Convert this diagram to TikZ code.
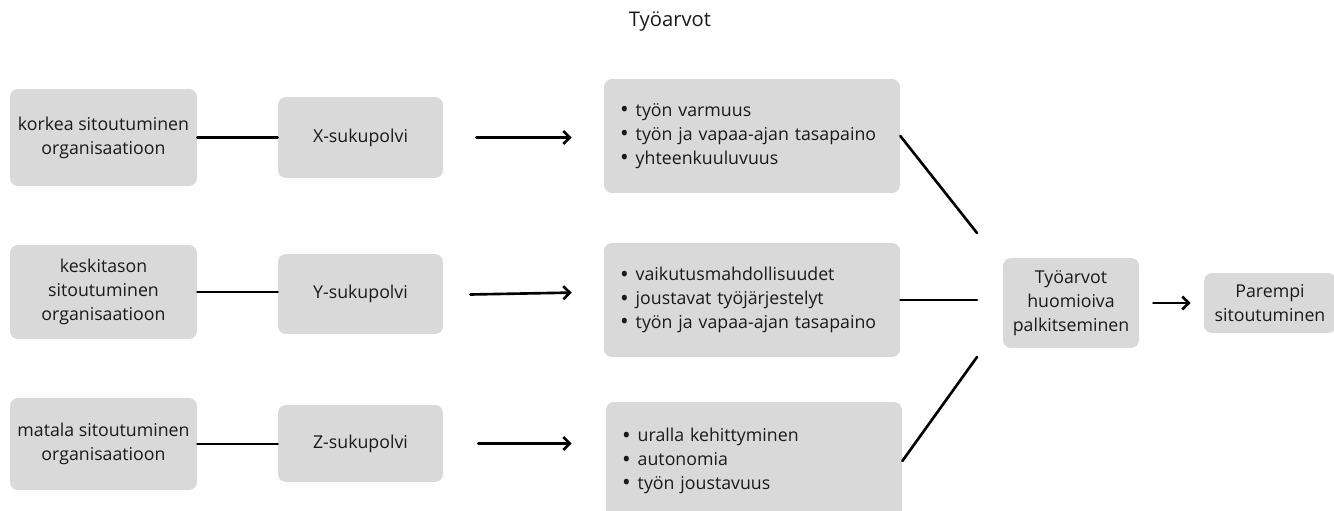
\documentclass[tikz,border=0pt]{standalone}
\usepackage{fontspec}
\setmainfont{Open Sans}
\usetikzlibrary{arrows.meta}
\definecolor{Box}{HTML}{D9D9D9}
\definecolor{Ink}{HTML}{1A1A1A}
\newcommand{\itm}{\raisebox{-.15ex}{\scalebox{1.3}{\textbullet}}\hspace{4pt}}

\begin{document}
\begin{tikzpicture}[x=.02cm,y=-.02cm,>={Straight Barb[length=1.3mm,width=2.6mm]},
 box/.style={fill=Box,rounded corners=.16cm,text=Ink,align=center,inner sep=0pt,font=\fontsize{10.1}{13.6}\selectfont},
 lst/.style={box,align=left,inner xsep=.32cm,text width=5.28cm},
 ln/.style={line width=1.5pt,line cap=round}]
\useasboundingbox(0,0)rectangle(1334,510);
\node[text=Ink,font=\fontsize{11.5}{14}\selectfont](title)at(670,22){Työarvot};
% sitoutuminen
\node[box,minimum width=3.74cm,minimum height=1.94cm](k1)at(103.5,137.5){korkea sitoutuminen\\organisaatioon};
\node[box,minimum width=3.74cm,minimum height=1.88cm](k2)at(103.5,292){keskitason\\sitoutuminen\\organisaatioon};
\node[box,minimum width=3.74cm,minimum height=1.84cm](k3)at(103.5,444){matala sitoutuminen\\organisaatioon};
% sukupolvet
\node[box,minimum width=3.3cm,minimum height=1.62cm](g1)at(360.5,137.5){X-sukupolvi};
\node[box,minimum width=3.3cm,minimum height=1.6cm](g2)at(360.5,294){Y-sukupolvi};
\node[box,minimum width=3.3cm,minimum height=1.54cm](g3)at(360.5,443.5){Z-sukupolvi};
% arvot
\node[lst,minimum height=2.28cm](l1)at(752,136){\itm työn varmuus\\\itm työn ja vapaa-ajan tasapaino\\\itm yhteenkuuluvuus};
\node[lst,minimum height=2.28cm](l2)at(752,300){\itm vaikutusmahdollisuudet\\\itm joustavat työjärjestelyt\\\itm työn ja vapaa-ajan tasapaino};
\node[lst,minimum height=2.36cm](l3)at(754,461){\itm uralla kehittyminen\\\itm autonomia\\\itm työn joustavuus};
\node[box,minimum width=2.72cm,minimum height=1.8cm](t)at(1071,303){Työarvot\\huomioiva\\palkitseminen};
\node[box,minimum width=2.64cm,minimum height=1.2cm](p)at(1270,303){Parempi\\sitoutuminen};
\coordinate(j1)at(977,233);\coordinate(j2)at(977,300);\coordinate(j3)at(977,357);
% yhteydet
\draw[ln](k1.east)--(g1.west|-k1.east);
\draw[ln](k2.east)--(g2.west|-k2.east);
\draw[ln](k3.east)--(g3.west|-k3.east);
\draw[ln,->,shorten <=.66cm,shorten >=.64cm](g1.east)--(l1.west|-g1.east);
\draw[ln,->,shorten <=.54cm,shorten >=.64cm]([yshift=-.02cm]g2.east)--([yshift=.16cm]l2.west);
\draw[ln,->,shorten <=.7cm,shorten >=.68cm](g3.east)--(l3.west|-g3.east);
\draw[ln](l1.east)--(j1);
\draw[ln](l2.east)--(j2);
\draw[ln](l3.east)--(j3);
\draw[ln,->,shorten <=.28cm,shorten >=.26cm](t)--(p);
\end{tikzpicture}
\end{document}
